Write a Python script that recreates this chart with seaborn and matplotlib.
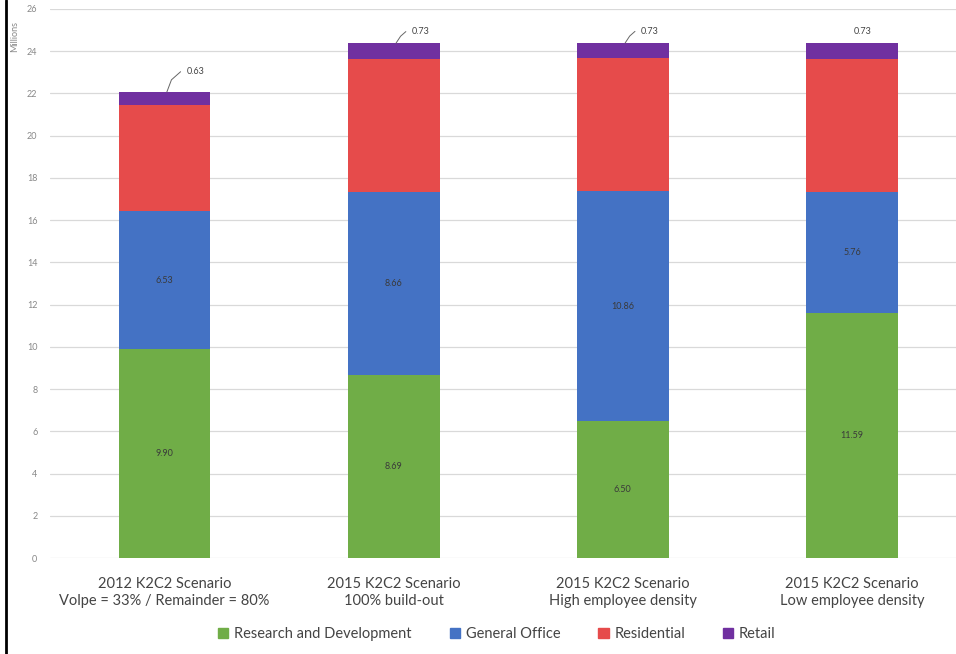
import numpy as np
import pandas as pd
import matplotlib
matplotlib.use("Agg")
import matplotlib.pyplot as plt
import seaborn as sns
from matplotlib.patches import Patch
from matplotlib.lines import Line2D

categories = ["2012 K2C2 Scenario\nVolpe = 33% / Remainder = 80%",
              "2015 K2C2 Scenario\n100% build-out",
              "2015 K2C2 Scenario\nHigh employee density",
              "2015 K2C2 Scenario\nLow employee density"]
rnd = [9.90, 8.69, 6.50, 11.59]
office = [6.53, 8.66, 10.86, 5.76]
residential = [5.01, 6.30, 6.30, 6.30]
retail = [0.63, 0.73, 0.73, 0.73]
series_names = ["Research and Development", "General Office", "Residential", "Retail"]
colors = ["#70AD47", "#4472C4", "#E64B4B", "#7030A0"]
yticks = list(range(0, 27, 2))

sns.set_theme(style="white")
plt.rcParams['font.family'] = ['Lato', 'DejaVu Sans']

fig = plt.figure(figsize=(9.56, 6.54), dpi=100)
ax = fig.add_axes([50/956, (654-558)/654, (956-50)/956, (558-9)/654])

vals = np.array([rnd, office, residential, retail])
cum = np.cumsum(vals, axis=0)
df = pd.DataFrame({"cat": categories})
for k in range(3, -1, -1):
    df["v"] = cum[k]
    sns.barplot(data=df, x="cat", y="v", color=colors[k], width=0.4,
                saturation=1, ax=ax, order=categories, zorder=3,
                linewidth=0, edgecolor="none")

# inner labels for R&D and General Office
for k in [0, 1]:
    for i in range(4):
        bottom = cum[k][i] - vals[k][i]
        ax.text(i, bottom + vals[k][i] / 2, f"{vals[k][i]:.2f}", ha="center", va="center",
                fontsize=6.5, color="#3a3a3a", zorder=5)

# retail labels with leader lines
offs = [(0.135, 0.96), (0.118, 0.55), (0.118, 0.55), (0.045, 0.55)]
for i in range(4):
    top = cum[3][i]
    dx, dy = offs[i]
    ax.text(i + dx, top + dy, f"{retail[i]:.2f}", ha="center", va="center",
            fontsize=6.5, color="#444444", zorder=5)
    if i < 3:
        ax.plot([i + 0.01, i + 0.03, dx + i - 0.065], [top, top + dy * 0.6, top + dy],
                color="#666666", lw=0.7, zorder=5)

ax.set_ylim(0, 26)
ax.set_xlim(-0.5, 3.454)
ax.set_yticks(yticks)
ax.set_yticklabels([str(t) for t in yticks], fontsize=6.5, color="#888888")
ax.tick_params(axis="y", pad=9, length=0)
ax.tick_params(axis="x", pad=14, length=0, labelsize=10.5, labelcolor="#444444")
ax.yaxis.grid(True, color="#d9d9d9", lw=0.9, zorder=0)
ax.set_axisbelow(True)
for s in ax.spines.values():
    s.set_visible(False)
ax.set_xlabel("")
ax.set_ylabel("")
fig.text(15/956, 1 - 36/654, "Millions", rotation=90, ha="center", va="center",
         fontsize=6.5, color="#888888")

handles = [Patch(facecolor=c, edgecolor=c) for c in colors]
fig.legend(handles, series_names, loc="center", bbox_to_anchor=(497/956, 1 - 634/654),
           ncol=4, frameon=False, fontsize=10.5, handlelength=0.7, handleheight=0.7,
           columnspacing=2.6, handletextpad=0.4, labelcolor="#444444")

fig.add_artist(Line2D([6/956, 6/956], [0, 1], color="black", lw=2, transform=fig.transFigure))

fig.savefig("out.png", dpi=100, facecolor="white")
